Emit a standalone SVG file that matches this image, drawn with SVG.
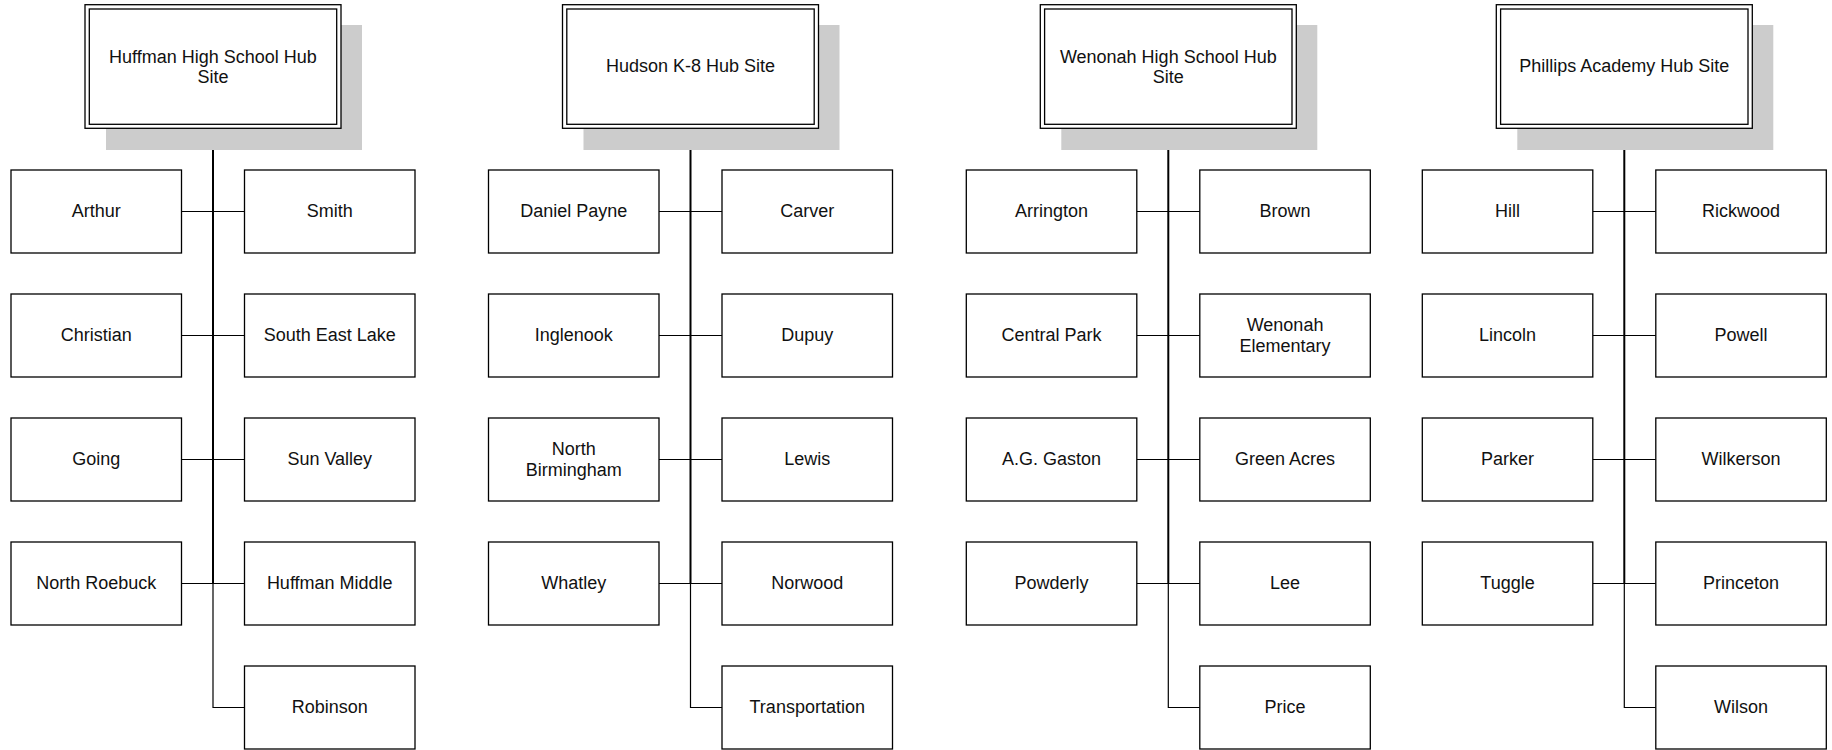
<svg xmlns="http://www.w3.org/2000/svg" width="1832" height="750" viewBox="0 0 1832 750">
<style>
.bg{fill:#ffffff}
.shadow{fill:#cccccc;stroke:none}
.hub{fill:#ffffff;stroke:#000;stroke-width:1.3}
.box{fill:#ffffff;stroke:#000;stroke-width:1.3}
.lbl{font-family:"Liberation Sans",Arial,sans-serif;font-size:18px;fill:#111;text-anchor:middle}
.trunk{fill:none;stroke:#000;stroke-width:2}
.conn{fill:none;stroke:#000;stroke-width:1.2}
</style>
<rect class="bg" x="0" y="0" width="1832" height="750"/>

<g id="connectors">
  <!-- column 1 -->
  <path class="trunk" d="M213 128.3V583.5"/>
  <path class="conn" d="M213 583.5V707.5H244.5"/>
  <path class="conn" d="M181.5 211.5H244.5M181.5 335.5H244.5M181.5 459.5H244.5M181.5 583.5H244.5"/>
  <!-- column 2 -->
  <path class="trunk" d="M690.5 128.3V583.5"/>
  <path class="conn" d="M690.5 583.5V707.5H722"/>
  <path class="conn" d="M659 211.5H722M659 335.5H722M659 459.5H722M659 583.5H722"/>
  <!-- column 3 -->
  <path class="trunk" d="M1168.3 128.3V583.5"/>
  <path class="conn" d="M1168.3 583.5V707.5H1199.8"/>
  <path class="conn" d="M1136.8 211.5H1199.8M1136.8 335.5H1199.8M1136.8 459.5H1199.8M1136.8 583.5H1199.8"/>
  <!-- column 4 -->
  <path class="trunk" d="M1624.3 128.3V583.5"/>
  <path class="conn" d="M1624.3 583.5V707.5H1655.8"/>
  <path class="conn" d="M1592.8 211.5H1655.8M1592.8 335.5H1655.8M1592.8 459.5H1655.8M1592.8 583.5H1655.8"/>
</g>

<!-- Hubs -->
<g id="hub-huffman">
  <rect class="shadow" x="106" y="25" width="256" height="125"/>
  <rect class="hub" x="85" y="4.7" width="256" height="123.6"/>
  <rect class="hub" x="89.3" y="9" width="247.4" height="115.3"/>
  <text class="lbl" x="213" y="62.5">Huffman High School Hub</text>
  <text class="lbl" x="213" y="82.5">Site</text>
</g>
<g id="hub-hudson">
  <rect class="shadow" x="583.5" y="25" width="256" height="125"/>
  <rect class="hub" x="562.5" y="4.7" width="256" height="123.6"/>
  <rect class="hub" x="566.8" y="9" width="247.4" height="115.3"/>
  <text class="lbl" x="690.5" y="71.5">Hudson K-8 Hub Site</text>
</g>
<g id="hub-wenonah">
  <rect class="shadow" x="1061.3" y="25" width="256" height="125"/>
  <rect class="hub" x="1040.3" y="4.7" width="256" height="123.6"/>
  <rect class="hub" x="1044.6" y="9" width="247.4" height="115.3"/>
  <text class="lbl" x="1168.3" y="62.5">Wenonah High School Hub</text>
  <text class="lbl" x="1168.3" y="82.5">Site</text>
</g>
<g id="hub-phillips">
  <rect class="shadow" x="1517.3" y="25" width="256" height="125"/>
  <rect class="hub" x="1496.3" y="4.7" width="256" height="123.6"/>
  <rect class="hub" x="1500.6" y="9" width="247.4" height="115.3"/>
  <text class="lbl" x="1624.3" y="71.5">Phillips Academy Hub Site</text>
</g>

<!-- Column 1 children -->
<g id="arthur"><rect class="box" x="11" y="170" width="170.5" height="83"/><text class="lbl" x="96.25" y="217">Arthur</text></g>
<g id="christian"><rect class="box" x="11" y="294" width="170.5" height="83"/><text class="lbl" x="96.25" y="341">Christian</text></g>
<g id="going"><rect class="box" x="11" y="418" width="170.5" height="83"/><text class="lbl" x="96.25" y="465">Going</text></g>
<g id="north-roebuck"><rect class="box" x="11" y="542" width="170.5" height="83"/><text class="lbl" x="96.25" y="589">North Roebuck</text></g>
<g id="smith"><rect class="box" x="244.5" y="170" width="170.5" height="83"/><text class="lbl" x="329.75" y="217">Smith</text></g>
<g id="south-east-lake"><rect class="box" x="244.5" y="294" width="170.5" height="83"/><text class="lbl" x="329.75" y="341">South East Lake</text></g>
<g id="sun-valley"><rect class="box" x="244.5" y="418" width="170.5" height="83"/><text class="lbl" x="329.75" y="465">Sun Valley</text></g>
<g id="huffman-middle"><rect class="box" x="244.5" y="542" width="170.5" height="83"/><text class="lbl" x="329.75" y="589">Huffman Middle</text></g>
<g id="robinson"><rect class="box" x="244.5" y="666" width="170.5" height="83"/><text class="lbl" x="329.75" y="713">Robinson</text></g>

<!-- Column 2 children -->
<g id="daniel-payne"><rect class="box" x="488.5" y="170" width="170.5" height="83"/><text class="lbl" x="573.75" y="217">Daniel Payne</text></g>
<g id="inglenook"><rect class="box" x="488.5" y="294" width="170.5" height="83"/><text class="lbl" x="573.75" y="341">Inglenook</text></g>
<g id="north-birmingham"><rect class="box" x="488.5" y="418" width="170.5" height="83"/><text class="lbl" x="573.75" y="454.5">North</text><text class="lbl" x="573.75" y="475.5">Birmingham</text></g>
<g id="whatley"><rect class="box" x="488.5" y="542" width="170.5" height="83"/><text class="lbl" x="573.75" y="589">Whatley</text></g>
<g id="carver"><rect class="box" x="722" y="170" width="170.5" height="83"/><text class="lbl" x="807.25" y="217">Carver</text></g>
<g id="dupuy"><rect class="box" x="722" y="294" width="170.5" height="83"/><text class="lbl" x="807.25" y="341">Dupuy</text></g>
<g id="lewis"><rect class="box" x="722" y="418" width="170.5" height="83"/><text class="lbl" x="807.25" y="465">Lewis</text></g>
<g id="norwood"><rect class="box" x="722" y="542" width="170.5" height="83"/><text class="lbl" x="807.25" y="589">Norwood</text></g>
<g id="transportation"><rect class="box" x="722" y="666" width="170.5" height="83"/><text class="lbl" x="807.25" y="713">Transportation</text></g>

<!-- Column 3 children -->
<g id="arrington"><rect class="box" x="966.3" y="170" width="170.5" height="83"/><text class="lbl" x="1051.55" y="217">Arrington</text></g>
<g id="central-park"><rect class="box" x="966.3" y="294" width="170.5" height="83"/><text class="lbl" x="1051.55" y="341">Central Park</text></g>
<g id="ag-gaston"><rect class="box" x="966.3" y="418" width="170.5" height="83"/><text class="lbl" x="1051.55" y="465">A.G. Gaston</text></g>
<g id="powderly"><rect class="box" x="966.3" y="542" width="170.5" height="83"/><text class="lbl" x="1051.55" y="589">Powderly</text></g>
<g id="brown"><rect class="box" x="1199.8" y="170" width="170.5" height="83"/><text class="lbl" x="1285.05" y="217">Brown</text></g>
<g id="wenonah-elementary"><rect class="box" x="1199.8" y="294" width="170.5" height="83"/><text class="lbl" x="1285.05" y="330.5">Wenonah</text><text class="lbl" x="1285.05" y="351.5">Elementary</text></g>
<g id="green-acres"><rect class="box" x="1199.8" y="418" width="170.5" height="83"/><text class="lbl" x="1285.05" y="465">Green Acres</text></g>
<g id="lee"><rect class="box" x="1199.8" y="542" width="170.5" height="83"/><text class="lbl" x="1285.05" y="589">Lee</text></g>
<g id="price"><rect class="box" x="1199.8" y="666" width="170.5" height="83"/><text class="lbl" x="1285.05" y="713">Price</text></g>

<!-- Column 4 children -->
<g id="hill"><rect class="box" x="1422.3" y="170" width="170.5" height="83"/><text class="lbl" x="1507.55" y="217">Hill</text></g>
<g id="lincoln"><rect class="box" x="1422.3" y="294" width="170.5" height="83"/><text class="lbl" x="1507.55" y="341">Lincoln</text></g>
<g id="parker"><rect class="box" x="1422.3" y="418" width="170.5" height="83"/><text class="lbl" x="1507.55" y="465">Parker</text></g>
<g id="tuggle"><rect class="box" x="1422.3" y="542" width="170.5" height="83"/><text class="lbl" x="1507.55" y="589">Tuggle</text></g>
<g id="rickwood"><rect class="box" x="1655.8" y="170" width="170.5" height="83"/><text class="lbl" x="1741.05" y="217">Rickwood</text></g>
<g id="powell"><rect class="box" x="1655.8" y="294" width="170.5" height="83"/><text class="lbl" x="1741.05" y="341">Powell</text></g>
<g id="wilkerson"><rect class="box" x="1655.8" y="418" width="170.5" height="83"/><text class="lbl" x="1741.05" y="465">Wilkerson</text></g>
<g id="princeton"><rect class="box" x="1655.8" y="542" width="170.5" height="83"/><text class="lbl" x="1741.05" y="589">Princeton</text></g>
<g id="wilson"><rect class="box" x="1655.8" y="666" width="170.5" height="83"/><text class="lbl" x="1741.05" y="713">Wilson</text></g>
</svg>
